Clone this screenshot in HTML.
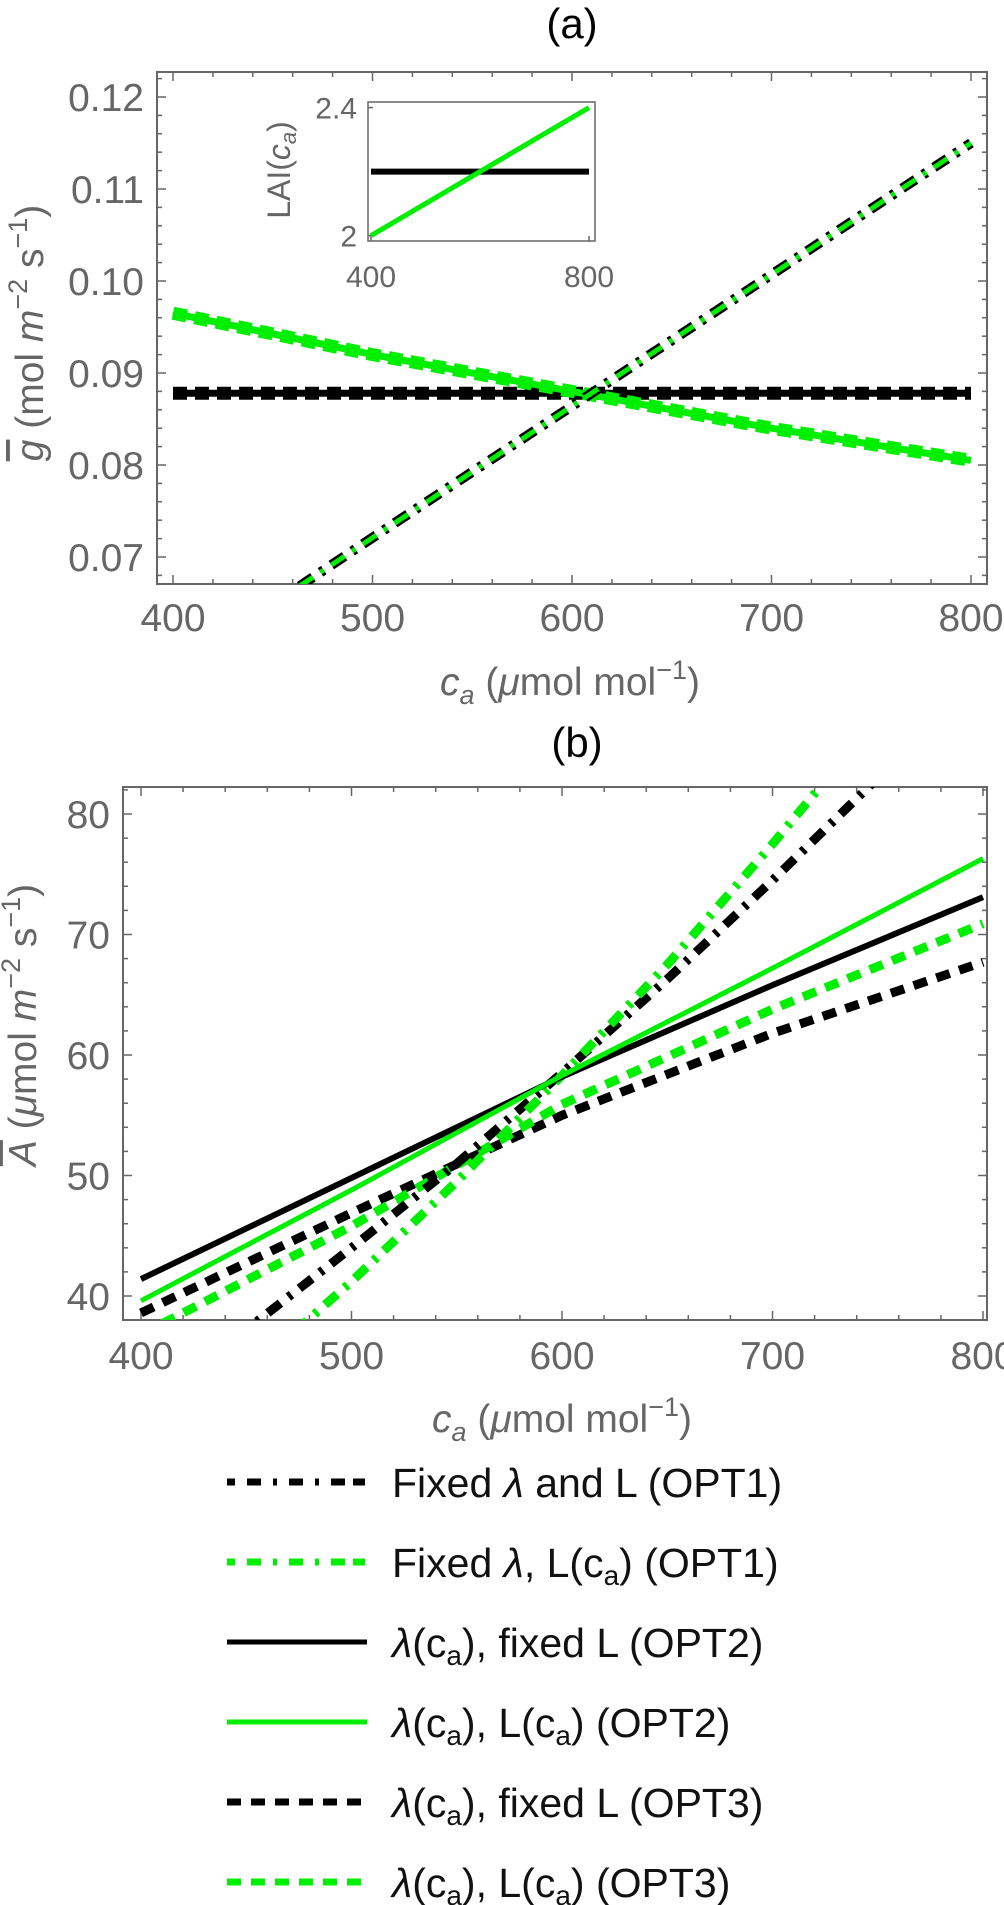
<!DOCTYPE html>
<html><head><meta charset="utf-8"><style>
html,body{margin:0;padding:0;background:#fff;}
svg{display:block;font-family:"Liberation Sans",sans-serif;}
</style></head><body>
<svg id="fig" width="1004" height="1905" viewBox="0 0 1004 1905" xmlns="http://www.w3.org/2000/svg">
<defs>
<clipPath id="clipA"><rect x="157" y="72" width="830" height="512"/></clipPath>
<clipPath id="clipB"><rect x="123" y="787" width="864" height="533"/></clipPath>
<clipPath id="clipI"><rect x="368" y="102" width="227" height="139"/></clipPath>
</defs>
<g id="root"></g>
</svg>
<script>
// ---------- Panel (a) data ----------
const aCa = [400, 500, 600, 700, 800];
const aFixedL = [0.0878, 0.0878, 0.0878, 0.0878, 0.0878];
const aLca = [0.0965, 0.0920, 0.0880, 0.0840, 0.0805];
const aOpt1 = [0.0577, 0.0721, 0.0864, 0.1007, 0.1150];
const aXTicks = [400, 500, 600, 700, 800];
const aYTicks = [0.07, 0.08, 0.09, 0.10, 0.11, 0.12];
const aYTickLabels = ["0.07", "0.08", "0.09", "0.10", "0.11", "0.12"];
// inset
const iCa = [400, 800];
const iLaiFixed = [2.2, 2.2];
const iLaiCa = [2.0, 2.4];
const iXTicks = [400, 800];
const iYTicks = [2, 2.4];
const iYTickLabels = ["2", "2.4"];
// ---------- Panel (b) data ----------
const bCaFine = [400, 450, 500, 550, 600, 650, 700, 750, 800];
const bOpt1Fixed = [30.5, 37.2, 44.0, 51.0, 58.5, 66.3, 74.5, 83.0, 92.0];
const bOpt1Lca = [26.5, 33.5, 41.2, 49.5, 58.3, 67.5, 77.5, 88.0, 99.0];
const bCa = [400, 500, 600, 700, 800];
const bOpt2Fixed = [41.4, 49.8, 58.2, 65.8, 73.1];
const bOpt2Lca = [39.6, 48.8, 58.3, 67.2, 76.3];
const bOpt3Fixed = [38.6, 46.9, 55.0, 61.8, 67.7];
const bOpt3Lca = [36.8, 45.8, 55.9, 63.8, 70.9];
const bXTicks = [400, 500, 600, 700, 800];
const bYTicks = [40, 50, 60, 70, 80];

const NS = "http://www.w3.org/2000/svg";
const root = document.getElementById("root");
const GRAY = "#666";
const GREEN = "#00ee00";

function mk(tag, attrs, parent) {
  const e = document.createElementNS(NS, tag);
  for (const k in attrs) e.setAttribute(k, attrs[k]);
  (parent || root).appendChild(e);
  return e;
}
const axA = { x: v => 173 + (v - 400) * 1.995, y: v => 97 + (0.12 - v) * 9200 };
const axI = { x: v => 371 + (v - 400) * 0.545, y: v => 235.6 - (v - 2) * 320 };
const axB = { x: v => 141 + (v - 400) * 2.105, y: v => 814 + (80 - v) * 12.05 };

function pathD(ax, xs, ys) {
  return xs.map((x, i) => (i ? "L" : "M") + ax.x(x).toFixed(1) + "," + ax.y(ys[i]).toFixed(1)).join(" ");
}
function line(ax, xs, ys, color, w, dash, clip, name) {
  const p = mk("path", { d: pathD(ax, xs, ys), fill: "none", stroke: color, "stroke-width": w, "clip-path": "url(#" + clip + ")" });
  if (dash) p.setAttribute("stroke-dasharray", dash);
  
  
  return p;
}
function text(x, y, str, size, color, anchor, name) {
  const t = mk("text", { x: x, y: y, "font-size": size, fill: color, "text-anchor": anchor || "middle" });
  t.textContent = str;
  
  
  return t;
}
function frame(x0, y0, x1, y1, name, w) {
  const r = mk("rect", { x: x0, y: y0, width: x1 - x0, height: y1 - y0, fill: "none", stroke: GRAY, "stroke-width": w || 2 });
  
  
}
function tick(x1, y1, x2, y2, w) {
  const l = mk("line", { x1: x1, y1: y1, x2: x2, y2: y2, stroke: GRAY, "stroke-width": w || 1.5 });
  
  
}

// ===== Panel (a) =====
text(572, 38, "(a)", 42, "#000", "middle", "panel-a-title");
frame(157, 72, 987, 584, "panel-a-frame");
for (let v = 400; v <= 800; v += 20) {
  const x = axA.x(v), L = (v % 100 === 0) ? 9 : 5;
  tick(x, 584, x, 584 - L); tick(x, 72, x, 72 + L);
}
for (let k = 34; k <= 61; k++) {
  const v = k * 0.002, y = axA.y(v);
  if (y < 72 || y > 584) continue;
  const L = (k % 5 === 0) ? 9 : 5;
  tick(157, y, 157 + L, y); tick(987, y, 987 - L, y);
}
aXTicks.forEach(v => text(axA.x(v), 631, String(v), 39, GRAY, "middle", "x-tick-label-a"));
aYTicks.forEach((v, i) => text(144, axA.y(v) + 14, aYTickLabels[i], 39, GRAY, "end", "y-tick-label-a"));
line(axA, aCa, aFixedL, "#000", 7, null, "clipA", "a-black-solid");
line(axA, aCa, aFixedL, "#000", 13, "14 8", "clipA", "a-black-dashed");
line(axA, aCa, aLca, GREEN, 7, null, "clipA", "a-green-solid");
line(axA, aCa, aLca, GREEN, 13, "14 8", "clipA", "a-green-dashed");
line(axA, aCa, aOpt1, "#000", 10, "16 9 4 9", "clipA", "a-black-dashdot");
line(axA, aCa, aOpt1, GREEN, 5, "16 9 4 9", "clipA", "a-green-dashdot");
const ib = mk("rect", { x: 368, y: 102, width: 227, height: 139, fill: "#fff", stroke: "none" });


frame(368, 102, 595, 241, "inset-frame", 1.5);
iXTicks.forEach(v => { tick(axI.x(v), 241, axI.x(v), 236); text(axI.x(v), 287, String(v), 30, GRAY, "middle", "inset-x-tick-label"); });
iYTicks.forEach((v, i) => { tick(368, axI.y(v), 373, axI.y(v)); text(357, axI.y(v) + 11, iYTickLabels[i], 30, GRAY, "end", "inset-y-tick-label"); });
line(axI, iCa, iLaiFixed, "#000", 6, null, "clipI", "inset-black-line");
line(axI, iCa, iLaiCa, GREEN, 5, null, "clipI", "inset-green-line");
(function () {
  const t = mk("text", { x: 0, y: 0, "font-size": 32, fill: GRAY, "text-anchor": "middle", transform: "translate(290,170) rotate(-90)" });
  
  
  t.innerHTML = 'LAI(<tspan font-style="italic">c</tspan><tspan font-style="italic" font-size="22" dy="6">a</tspan><tspan dy="-6">)</tspan>';
})();
(function () {
  const t = mk("text", { x: 0, y: 0, "font-size": 39, fill: GRAY, "text-anchor": "middle", transform: "translate(43,333) rotate(-90)" });
  
  
  t.innerHTML = '<tspan font-style="italic" text-decoration="overline">g</tspan> (mol <tspan font-style="italic">m</tspan><tspan font-size="27" dy="-16">−2</tspan><tspan dy="16"> s</tspan><tspan font-size="27" dy="-16">−1</tspan><tspan dy="16">)</tspan>';
  const x = mk("text", { x: 570, y: 695, "font-size": 39, fill: GRAY, "text-anchor": "middle" });
  
  
  x.innerHTML = '<tspan font-style="italic">c</tspan><tspan font-style="italic" font-size="27" dy="9">a</tspan><tspan dy="-9"> (</tspan><tspan font-style="italic">μ</tspan>mol mol<tspan font-size="27" dy="-16">−1</tspan><tspan dy="16">)</tspan>';
})();

// ===== Panel (b) =====
text(577, 757, "(b)", 42, "#000", "middle", "panel-b-title");
frame(123, 787, 987, 1320, "panel-b-frame");
for (let v = 400; v <= 800; v += 20) {
  const x = axB.x(v), L = (v % 100 === 0) ? 9 : 5;
  tick(x, 1320, x, 1320 - L); tick(x, 787, x, 787 + L);
}
for (let v = 38; v <= 82; v += 2) {
  const y = axB.y(v);
  if (y < 787 || y > 1320) continue;
  const L = (v % 10 === 0) ? 9 : 5;
  tick(123, y, 123 + L, y); tick(987, y, 987 - L, y);
}
bXTicks.forEach(v => text(axB.x(v), 1369, String(v), 39, GRAY, "middle", "x-tick-label-b"));
bYTicks.forEach(v => text(110, axB.y(v) + 14, String(v), 39, GRAY, "end", "y-tick-label-b"));
line(axB, bCa, bOpt3Fixed, "#000", 9, "14 10", "clipB", "b-opt3-fixed-l");
line(axB, bCa, bOpt3Lca, GREEN, 9, "14 10", "clipB", "b-opt3-l-ca");
line(axB, bCaFine, bOpt1Fixed, "#000", 9, "16 10 4 10", "clipB", "b-opt1-fixed-l");
line(axB, bCaFine, bOpt1Lca, GREEN, 9, "16 10 4 10", "clipB", "b-opt1-l-ca");
line(axB, bCa, bOpt2Fixed, "#000", 6, null, "clipB", "b-opt2-fixed-l");
line(axB, bCa, bOpt2Lca, GREEN, 5, null, "clipB", "b-opt2-l-ca");
(function () {
  const t = mk("text", { x: 0, y: 0, "font-size": 39, fill: GRAY, "text-anchor": "middle", transform: "translate(36,1025) rotate(-90)" });
  
  
  t.innerHTML = '<tspan font-style="italic" text-decoration="overline">A</tspan> (<tspan font-style="italic">μ</tspan>mol <tspan font-style="italic">m</tspan><tspan font-size="27" dy="-16">−2</tspan><tspan dy="16"> s</tspan><tspan font-size="27" dy="-16">−1</tspan><tspan dy="16">)</tspan>';
  const x = mk("text", { x: 562, y: 1432, "font-size": 39, fill: GRAY, "text-anchor": "middle" });
  
  
  x.innerHTML = '<tspan font-style="italic">c</tspan><tspan font-style="italic" font-size="27" dy="9">a</tspan><tspan dy="-9"> (</tspan><tspan font-style="italic">μ</tspan>mol mol<tspan font-size="27" dy="-16">−1</tspan><tspan dy="16">)</tspan>';
})();

// ===== Legend =====
const legY = [1482, 1562, 1642, 1722, 1802, 1882];
const legColor = ["#000", GREEN, "#000", GREEN, "#000", GREEN];
const legDash = ["8 12 14 12 4 12 14 12 4 12 14", "8 12 14 12 4 12 14 12 4 12 14", null, null, "14 10", "14 10"];
const legHtml = [
  'Fixed <tspan font-style="italic">λ</tspan> and L (OPT1)',
  'Fixed <tspan font-style="italic">λ</tspan>, L(c<tspan font-size="28" dy="8">a</tspan><tspan dy="-8">) (OPT1)</tspan>',
  '<tspan font-style="italic">λ</tspan>(c<tspan font-size="28" dy="8">a</tspan><tspan dy="-8">), fixed L (OPT2)</tspan>',
  '<tspan font-style="italic">λ</tspan>(c<tspan font-size="28" dy="8">a</tspan><tspan dy="-8">), L(c</tspan><tspan font-size="28" dy="8">a</tspan><tspan dy="-8">) (OPT2)</tspan>',
  '<tspan font-style="italic">λ</tspan>(c<tspan font-size="28" dy="8">a</tspan><tspan dy="-8">), fixed L (OPT3)</tspan>',
  '<tspan font-style="italic">λ</tspan>(c<tspan font-size="28" dy="8">a</tspan><tspan dy="-8">), L(c</tspan><tspan font-size="28" dy="8">a</tspan><tspan dy="-8">) (OPT3)</tspan>'
];
legY.forEach((y, i) => {
  const l = mk("line", { x1: 227, y1: y, x2: 367, y2: y, stroke: legColor[i], "stroke-width": legDash[i] ? 7 : 5 });
  if (legDash[i]) l.setAttribute("stroke-dasharray", legDash[i]);
  
  
  const t = mk("text", { x: 392, y: y + 15, "font-size": 41, fill: "#111" });
  t.innerHTML = legHtml[i];
  
  
});
</script>
</body></html>
